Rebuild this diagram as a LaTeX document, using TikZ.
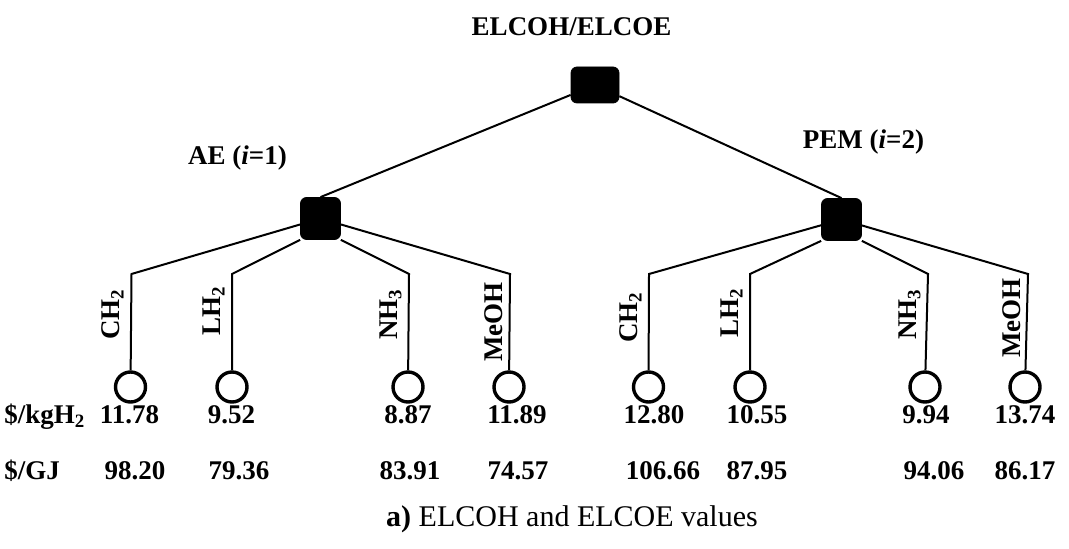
\documentclass[tikz,border=0pt]{standalone}
\usepackage{fontspec}
\setmainfont{Liberation Serif}
\tikzset{
	sq/.style={draw, fill=black, rounded corners=3pt, inner sep=0pt, minimum width=20pt, minimum height=21pt},
	leaf/.style={draw, circle, line width=1.7pt, minimum size=15pt, inner sep=0pt},
	conn/.style={line width=1pt},
	lbl/.style={font=\fontsize{13.5}{16}\selectfont\bfseries, inner sep=0pt},
	fuel/.style={lbl, rotate=90, anchor=south west},
	val/.style={lbl, anchor=base},
}
\def\sub#1{\textsubscript{#1}}

\begin{document}
\begin{tikzpicture}[x=0.5pt, y=-0.5pt]
		%%%%% FRAME %%%%%
		\useasboundingbox (0, 0) rectangle (1069, 549);
		
		%%%%% TREE %%%%%
		\node[val] (title) at (571.5, 36) {ELCOH/ELCOE};
		\node[sq, minimum width=24pt, minimum height=18pt] (top) at (595, 85) {};
		
		\node[val] (ae-name) at (237.5, 165) {AE (\textit{i}=1)};
		\node[val] (pem-name) at (863.5, 149) {PEM (\textit{i}=2)};
		\node[sq] (ae) at (320.5, 218.5) {};
		\node[sq] (pem) at (841.5, 219.5) {};
		
		\draw[conn] (top) -- (ae.north);
		\draw[conn] (top) -- (pem.north);
		
		% AE branch
		\coordinate (ae-ch2-bend) at (131.5, 274);
		\coordinate (ae-lh2-bend) at (232, 274);
		\coordinate (ae-nh3-bend) at (409, 274);
		\coordinate (ae-meoh-bend) at (510, 274);
		\node[leaf] (ae-ch2) at (130.5, 387) {};
		\node[leaf] (ae-lh2) at (232, 387) {};
		\node[leaf] (ae-nh3) at (408, 387) {};
		\node[leaf] (ae-meoh) at (509, 387) {};
		
		\draw[conn] (ae) -- (ae-ch2-bend) -- (ae-ch2);
		\draw[conn] (ae.south west) -- (ae-lh2-bend) -- (ae-lh2);
		\draw[conn] (ae.south east) -- (ae-nh3-bend) -- (ae-nh3);
		\draw[conn] (ae) -- (ae-meoh-bend) -- (ae-meoh);
		
		\node[fuel] (ae-ch2-name) at (124, 340) {CH\sub{2}};
		\node[fuel] (ae-lh2-name) at (225, 336) {LH\sub{2}};
		\node[fuel] (ae-nh3-name) at (402, 340) {NH\sub{3}};
		\node[fuel] (ae-meoh-name) at (503, 362) {MeOH};
		
		% PEM branch
		\coordinate (pem-ch2-bend) at (649, 274);
		\coordinate (pem-lh2-bend) at (750, 274);
		\coordinate (pem-nh3-bend) at (928, 274);
		\coordinate (pem-meoh-bend) at (1028, 274);
		\node[leaf] (pem-ch2) at (648.5, 387) {};
		\node[leaf] (pem-lh2) at (750, 387) {};
		\node[leaf] (pem-nh3) at (925, 387) {};
		\node[leaf] (pem-meoh) at (1025, 387) {};
		
		\draw[conn] (pem) -- (pem-ch2-bend) -- (pem-ch2);
		\draw[conn] (pem.south west) -- (pem-lh2-bend) -- (pem-lh2);
		\draw[conn] (pem.south east) -- (pem-nh3-bend) -- (pem-nh3);
		\draw[conn] (pem) -- (pem-meoh-bend) -- (pem-meoh);
		
		\node[fuel] (pem-ch2-name) at (642, 343) {CH\sub{2}};
		\node[fuel] (pem-lh2-name) at (743, 338) {LH\sub{2}};
		\node[fuel] (pem-nh3-name) at (921, 340) {NH\sub{3}};
		\node[fuel] (pem-meoh-name) at (1021, 358) {MeOH};
		
		%%%%% VALUES %%%%%
		\node[val, anchor=base west] (unit-kg) at (4, 423) {\$/kgH\sub{2}};
		\node[val, anchor=base west] (unit-gj) at (4, 479) {\$/GJ};
		
		\node[val] (kg-ae-ch2) at (129.5, 423) {11.78};
		\node[val] (kg-ae-lh2) at (231.5, 423) {9.52};
		\node[val] (kg-ae-nh3) at (408, 423) {8.87};
		\node[val] (kg-ae-meoh) at (517, 423) {11.89};
		\node[val] (kg-pem-ch2) at (654, 423) {12.80};
		\node[val] (kg-pem-lh2) at (757, 423) {10.55};
		\node[val] (kg-pem-nh3) at (926, 423) {9.94};
		\node[val] (kg-pem-meoh) at (1025, 423) {13.74};
		
		\node[val] (gj-ae-ch2) at (135, 479) {98.20};
		\node[val] (gj-ae-lh2) at (239, 479) {79.36};
		\node[val] (gj-ae-nh3) at (410, 479) {83.91};
		\node[val] (gj-ae-meoh) at (518, 479) {74.57};
		\node[val] (gj-pem-ch2) at (663, 479) {106.66};
		\node[val] (gj-pem-lh2) at (757, 479) {87.95};
		\node[val] (gj-pem-nh3) at (934, 479) {94.06};
		\node[val] (gj-pem-meoh) at (1025, 479) {86.17};
		
		%%%%% CAPTION %%%%%
		\node[anchor=base, inner sep=0pt, font=\fontsize{15}{18}\selectfont] (caption) at (572, 526) {\textbf{a)} ELCOH and ELCOE values};
	\end{tikzpicture}
\end{document}
